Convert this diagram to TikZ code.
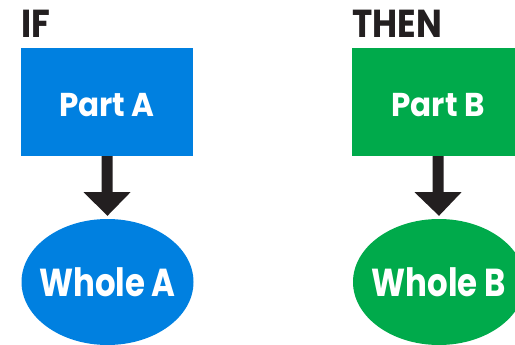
\documentclass[tikz,border=0pt]{standalone}
\usepackage{fontspec}
\setmainfont{Poppins}
\newfontfamily\headfont{Poppins Bold}[FakeStretch=0.88]
\newfontfamily\partfont{Poppins Bold}[FakeStretch=0.94]
\newfontfamily\wholefont{Poppins Bold}[FakeStretch=0.83]
\usetikzlibrary{shapes.geometric,calc}
\definecolor{bluebox}{RGB}{0,128,224}
\definecolor{greenbox}{RGB}{0,170,75}
\definecolor{arrowdark}{RGB}{35,31,32}
\tikzset{
  partbox/.style={rectangle, minimum width=172pt, minimum height=108pt, inner sep=0pt, text height=30pt, text depth=0pt, text=white, font=\partfont\fontsize{33}{33}\selectfont},
  wholeell/.style={ellipse, minimum width=172pt, minimum height=126pt, inner sep=0pt},
  wholetext/.style={text=white, inner sep=0pt, font=\wholefont\fontsize{39}{39}\selectfont},
  heading/.style={anchor=base west, inner sep=0pt, text=arrowdark, font=\headfont\fontsize{39}{39}\selectfont},
  bigarrow/.style={draw=none, fill=arrowdark}
}
\begin{document}
\begin{tikzpicture}[x=1pt,y=1pt]
\useasboundingbox (0,0) rectangle (515,-345);
\clip (0,0) rectangle (515,-345);
\node[heading] (if) at (21,-38) {IF};
\node[heading] (then) at (352,-38) {THEN};
\node[partbox, fill=bluebox] (pa) at (107,-102) {Part A};
\node[partbox, fill=greenbox] (pb) at (438,-102) {Part B};
\node[wholeell, fill=bluebox] (wa) at (107.5,-282) {};
\node[wholeell, fill=greenbox] (wb) at (439,-282) {};
\node[wholetext] (wat) at (wa.center) {Whole A};
\node[wholetext] (wbt) at (wb.center) {Whole B};
\foreach \s/\t in {pa/wa, pb/wb}{
  \fill[bigarrow] ($(\s.south)+(-5.5,0)$) -- ($(\s.south)+(5.5,0)$) -- ($(\s.south)+(5.5,-36)$) -- ($(\s.south)+(23.5,-36)$) -- ($(\t.north)+(0,3)$) -- ($(\s.south)+(-23.5,-36)$) -- ($(\s.south)+(-5.5,-36)$) -- cycle;
}
\end{tikzpicture}
\end{document}
